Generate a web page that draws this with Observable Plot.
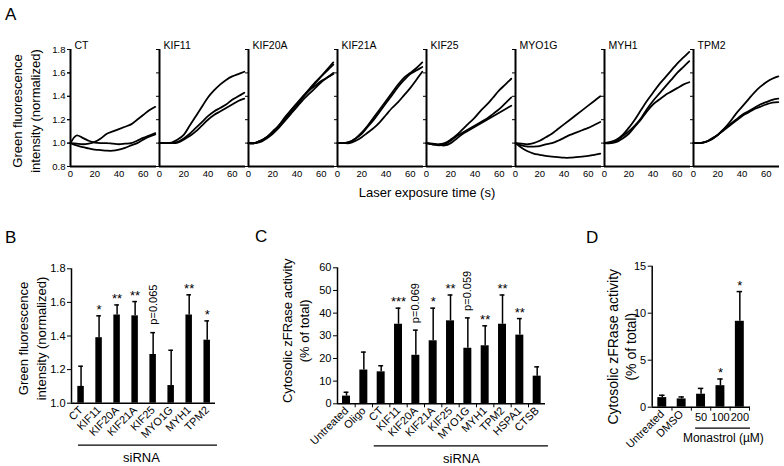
<!DOCTYPE html>
<html><head><meta charset="utf-8">
<script src="https://cdn.jsdelivr.net/npm/d3@7"></script>
<script src="https://cdn.jsdelivr.net/npm/@observablehq/plot@0.6"></script>
<style>
body{margin:0;background:#fff;}
#root{position:relative;width:784px;height:466px;font-family:"Liberation Sans",Arial,Helvetica,sans-serif;color:#000;overflow:hidden;background:#fff}
.lbl{position:absolute;line-height:1;white-space:nowrap;color:#000}
</style></head><body><div id="root"></div>
<script>
// ---------------- Panel A data ----------------
const timesA = [0,5,10,15,20,25,30,35,40,45,50,55,60,65,70];
const genesA = ["CT","KIF11","KIF20A","KIF21A","KIF25","MYO1G","MYH1","TPM2"];
const yTicksA = [0.8,1.0,1.2,1.4,1.6,1.8];
const xTicksA = [0,20,40,60];
const runsCT = [
  [1.0,0.995,0.99,0.995,1.01,1.04,1.08,1.10,1.12,1.14,1.16,1.20,1.24,1.28,1.31],
  [1.0,1.065,1.045,1.02,1.005,1.0,1.0,0.995,0.99,0.995,1.0,1.02,1.045,1.065,1.085],
  [1.0,0.98,0.965,0.955,0.945,0.94,0.935,0.935,0.945,0.96,0.98,1.0,1.03,1.055,1.075]
];
const runsKIF11 = [
  [1.0,1.0,1.005,1.03,1.07,1.15,1.23,1.31,1.39,1.45,1.50,1.54,1.57,1.59,1.61],
  [1.0,1.0,1.0,1.01,1.04,1.08,1.13,1.18,1.23,1.27,1.30,1.33,1.37,1.40,1.43],
  [1.0,1.0,1.0,1.005,1.03,1.06,1.10,1.15,1.20,1.24,1.27,1.30,1.33,1.36,1.38]
];
const runsKIF20A = [
  [1.0,1.0,1.02,1.05,1.09,1.14,1.20,1.26,1.32,1.39,1.45,1.51,1.57,1.63,1.69],
  [1.0,1.0,1.02,1.05,1.10,1.15,1.21,1.28,1.34,1.40,1.46,1.52,1.57,1.62,1.67],
  [1.0,1.0,1.01,1.04,1.08,1.13,1.19,1.25,1.31,1.37,1.42,1.47,1.52,1.56,1.60],
  [1.0,1.0,1.02,1.05,1.09,1.15,1.22,1.28,1.34,1.40,1.45,1.49,1.53,1.56,1.59]
];
const runsKIF21A = [
  [1.0,1.0,1.01,1.04,1.09,1.15,1.22,1.29,1.36,1.43,1.50,1.56,1.60,1.64,1.69],
  [1.0,1.0,1.01,1.04,1.08,1.14,1.20,1.27,1.34,1.41,1.48,1.54,1.59,1.62,1.65],
  [1.0,1.0,1.0,1.02,1.05,1.09,1.13,1.18,1.24,1.30,1.35,1.41,1.47,1.54,1.61]
];
const runsKIF25 = [
  [1.0,0.995,0.99,1.0,1.03,1.07,1.12,1.17,1.22,1.28,1.33,1.39,1.45,1.50,1.55],
  [1.0,0.99,0.98,0.99,1.02,1.06,1.09,1.12,1.15,1.18,1.21,1.25,1.29,1.34,1.39],
  [1.0,0.99,0.985,0.98,1.0,1.04,1.08,1.11,1.14,1.17,1.20,1.23,1.26,1.29,1.32]
];
const runsMYO1G = [
  [1.0,0.995,0.99,1.0,1.02,1.05,1.08,1.12,1.16,1.20,1.24,1.28,1.32,1.36,1.40],
  [1.0,0.98,0.97,0.97,0.975,0.99,1.0,1.02,1.045,1.07,1.09,1.11,1.13,1.155,1.18],
  [1.0,0.96,0.93,0.91,0.90,0.89,0.885,0.88,0.875,0.875,0.88,0.885,0.89,0.90,0.91]
];
const runsMYH1 = [
  [1.0,1.01,1.03,1.07,1.13,1.20,1.28,1.36,1.43,1.50,1.56,1.62,1.68,1.73,1.78],
  [1.0,1.0,1.02,1.06,1.10,1.15,1.21,1.29,1.36,1.42,1.48,1.54,1.60,1.65,1.70],
  [1.0,1.0,1.01,1.04,1.08,1.14,1.20,1.27,1.33,1.37,1.41,1.44,1.47,1.50,1.52]
];
const runsTPM2 = [
  [1.0,1.0,1.01,1.03,1.07,1.12,1.18,1.25,1.31,1.37,1.43,1.48,1.52,1.55,1.57],
  [1.0,1.0,1.01,1.04,1.07,1.12,1.16,1.20,1.24,1.27,1.30,1.33,1.35,1.37,1.38],
  [1.0,1.0,1.01,1.035,1.07,1.11,1.15,1.19,1.23,1.26,1.29,1.31,1.33,1.345,1.35]
];
const runsA = [runsCT,runsKIF11,runsKIF20A,runsKIF21A,runsKIF25,runsMYO1G,runsMYH1,runsTPM2];

// ---------------- Panel B data ----------------
const catsB = ["CT","KIF11","KIF20A","KIF21A","KIF25","MYO1G","MYH1","TPM2"];
const meanB = [1.10,1.39,1.525,1.52,1.29,1.105,1.525,1.375];
const errB  = [1.22,1.52,1.585,1.605,1.42,1.315,1.645,1.49];
const sigB  = ["","*","**","**","","","**","*"];
const pB    = ["","","","","p=0.065","","",""];
const yTicksB = [1.0,1.2,1.4,1.6,1.8];

// ---------------- Panel C data ----------------
const catsC = ["Untreated","Oligo","CT","KIF11","KIF20A","KIF21A","KIF25","MYO1G","MYH1","TPM2","HSPA1","CTSB"];
const meanC = [3.4,14.9,14.1,35.1,21.4,27.8,36.6,24.5,25.6,35.1,30.3,12.2];
const errC  = [5.1,22.8,16.8,42.2,32.5,42.2,48.0,37.9,34.4,48.0,37.6,16.3];
const sigC  = ["","","","***","","*","**","","**","**","**",""];
const pC    = ["","","","","p=0.069","","","p=0.059","","","",""];
const yTicksC = [0,10,20,30,40,50,60];

// ---------------- Panel D data ----------------
const catsD = ["Untreated","DMSO","50","100","200"];
const meanD = [1.02,0.88,1.38,2.29,9.14];
const errD  = [1.27,1.09,2.0,3.0,12.3];
const sigD  = ["","","","*","*"];
const yTicksD = [0,5,10,15];

// ---------------- helpers ----------------
const FONT = '"Liberation Sans", Arial, Helvetica, sans-serif';
const root = document.getElementById("root");
function place(svg, left, top) {
  svg.style.position = "absolute";
  svg.style.left = left + "px";
  svg.style.top = top + "px";
  root.appendChild(svg);
}
function label(txt, left, top, size, extra) {
  const d = document.createElement("div");
  d.className = "lbl";
  d.textContent = txt;
  d.style.left = left + "px";
  d.style.top = top + "px";
  d.style.fontSize = size + "px";
  if (extra) Object.assign(d.style, extra);
  root.appendChild(d);
  return d;
}
const baseStyle = (fs) => ({fontFamily: FONT, fontSize: fs + "px", color: "#000", background: "transparent", overflow: "visible"});
const rowsOf = (cats, mean, err, sig, p) => cats.map((c, i) => ({i, cat: c, mean: mean[i], err: err[i], sig: sig ? sig[i] : "", p: p ? p[i] : ""}));
const yLabel = (txt, dx, dy, fs, extra) => Plot.text([txt], Object.assign({frameAnchor: "left", textAnchor: "middle", lineAnchor: "middle", rotate: -90, dx, dy, fontSize: fs, lineHeight: 1.32}, extra || {}));

// ---------------- Panel A ----------------
const traces = genesA.flatMap((g, gi) => runsA[gi].flatMap((run, ri) => run.map((v, k) => ({gene: g, run: g + "-" + ri, t: timesA[k], v}))));
const xDomA = [0, 71];
const plotA = Plot.plot({
  width: 784, height: 200,
  marginLeft: 67, marginRight: 2, marginTop: 49, marginBottom: 34,
  style: baseStyle(9.5),
  fx: {domain: genesA, paddingInner: 0.03, paddingOuter: 0, axis: null},
  x: {domain: xDomA},
  y: {domain: [0.8, 1.8]},
  marks: [
    Plot.ruleX([0], {y1: 0.8, y2: 1.8, strokeWidth: 2}),
    Plot.ruleY([0.8], {x1: 0, x2: xDomA[1], strokeWidth: 2}),
    Plot.axisY({ticks: yTicksA, tickFormat: d3.format(".1f"), tickSize: 3, tickPadding: 2, label: null}),
    Plot.axisY({ticks: yTicksA, tickSize: 3, fill: "none", label: null, facetAnchor: null}),
    Plot.axisX({ticks: xTicksA, tickSize: 0, tickPadding: 4, label: null}),
    Plot.line(traces, {x: "t", y: "v", z: "run", fx: "gene", stroke: "#000", strokeWidth: 1.8, curve: "catmull-rom"}),
    Plot.text(genesA, {fx: d => d, text: d => d, frameAnchor: "top-left", textAnchor: "start", lineAnchor: "bottom", dx: 4, dy: -1, fontSize: 10.5}),
    yLabel("Green fluorescence\nintensity (normalized)", -45, 3, 13, {facetAnchor: "left"})
  ]
});
place(plotA, 0, 0);
label("A", 5, 6, 17);
label("Laser exposure time (s)", 427, 186, 13, {transform: "translateX(-50%)"});

// ---------------- Panel B ----------------
const rowsB = rowsOf(catsB, meanB, errB, sigB, pB);
const xDomB = [-0.53, 7.46];
const plotB = Plot.plot({
  width: 232, height: 236,
  marginLeft: 71, marginRight: 17, marginTop: 38.3, marginBottom: 63.3,
  style: baseStyle(11),
  x: {domain: xDomB},
  y: {domain: [1.0, 1.8]},
  marks: [
    Plot.ruleX([xDomB[0]], {y1: 1.0, y2: 1.8, strokeWidth: 1.5}),
    Plot.ruleY([1.0], {x1: xDomB[0], x2: xDomB[1], strokeWidth: 1.5}),
    Plot.rectY(rowsB, {x1: d => d.i - 0.18, x2: d => d.i + 0.18, y1: 1.0, y2: "mean", fill: "#000"}),
    Plot.ruleX(rowsB, {x: "i", y1: "mean", y2: "err", strokeWidth: 1.5}),
    Plot.ruleY(rowsB, {y: "err", x1: d => d.i - 0.13, x2: d => d.i + 0.13, strokeWidth: 1.5}),
    Plot.axisY({ticks: yTicksB, tickFormat: d3.format(".1f"), tickSize: 4, tickPadding: 2, label: null}),
    Plot.axisX({ticks: d3.range(catsB.length), tickFormat: i => catsB[i], tickRotate: -45, tickSize: 0, tickPadding: 5, label: null}),
    Plot.text(rowsB.filter(d => d.sig), {x: "i", y: "err", text: "sig", dy: -2, lineAnchor: "bottom", fontSize: 13}),
    Plot.text(rowsB.filter(d => d.p), {x: "i", y: "err", text: "p", rotate: -90, textAnchor: "start", dy: -8, fontSize: 11}),
    Plot.ruleY([1.0], {x1: -0.14, x2: 7.57, dy: 42, strokeWidth: 1.2}),
    Plot.text(["siRNA"], {x: 3.35, y: 1.0, dy: 55, fontSize: 13}),
    yLabel("Green fluorescence\nintensity (normalized)", -40, 2.5, 13)
  ]
});
place(plotB, 0, 230);
label("B", 5, 229, 17);

// ---------------- Panel C ----------------
const rowsC = rowsOf(catsC, meanC, errC, sigC, pC);
const xDomC = [-0.52, 11.48];
const plotC = Plot.plot({
  width: 316, height: 236,
  marginLeft: 97, marginRight: 11, marginTop: 37.3, marginBottom: 62.7,
  style: baseStyle(11),
  x: {domain: xDomC},
  y: {domain: [0, 60]},
  marks: [
    Plot.ruleX([xDomC[0]], {y1: 0, y2: 60, strokeWidth: 1.5}),
    Plot.ruleY([0], {x1: xDomC[0], x2: xDomC[1], strokeWidth: 1.5}),
    Plot.rectY(rowsC, {x1: d => d.i - 0.23, x2: d => d.i + 0.23, y1: 0, y2: "mean", fill: "#000"}),
    Plot.ruleX(rowsC, {x: "i", y1: "mean", y2: "err", strokeWidth: 1.5}),
    Plot.ruleY(rowsC, {y: "err", x1: d => d.i - 0.14, x2: d => d.i + 0.14, strokeWidth: 1.5}),
    Plot.axisY({ticks: yTicksC, tickSize: 4, tickPadding: 2, label: null}),
    Plot.axisX({ticks: d3.range(catsC.length - 1).map(i => i + 0.5), tickSize: 4, fill: "none", label: null}),
    Plot.axisX({ticks: d3.range(catsC.length), tickFormat: i => catsC[i], tickRotate: -45, tickSize: 0, tickPadding: 5, label: null}),
    Plot.text(rowsC.filter(d => d.sig), {x: "i", y: "err", text: "sig", dy: -2, lineAnchor: "bottom", fontSize: 13}),
    Plot.text(rowsC.filter(d => d.p), {x: "i", y: "err", text: "p", rotate: -90, textAnchor: "start", dy: -7, fontSize: 11}),
    Plot.ruleY([0], {x1: 1.6, x2: 11.65, dy: 42, strokeWidth: 1.2}),
    Plot.text(["siRNA"], {x: 6.63, y: 0, dy: 55, fontSize: 13}),
    yLabel("Cytosolic zFRase activity\n(% of total)", -42.5, -5, 13)
  ]
});
place(plotC, 240, 230);
label("C", 255, 228, 17);

// ---------------- Panel D ----------------
const rowsD = rowsOf(catsD, meanD, errD, sigD, null);
const xDomD = [-0.52, 4.55];
const plotD = Plot.plot({
  width: 228, height: 236,
  marginLeft: 95.7, marginRight: 34, marginTop: 35.7, marginBottom: 59.3,
  style: baseStyle(11),
  x: {domain: xDomD},
  y: {domain: [0, 15]},
  marks: [
    Plot.ruleX([xDomD[0]], {y1: 0, y2: 15, strokeWidth: 1.5}),
    Plot.ruleY([0], {x1: xDomD[0], x2: xDomD[1], strokeWidth: 1.5}),
    Plot.rectY(rowsD, {x1: d => d.i - 0.23, x2: d => d.i + 0.23, y1: 0, y2: "mean", fill: "#000"}),
    Plot.ruleX(rowsD, {x: "i", y1: "mean", y2: "err", strokeWidth: 1.5}),
    Plot.ruleY(rowsD, {y: "err", x1: d => d.i - 0.14, x2: d => d.i + 0.14, strokeWidth: 1.5}),
    Plot.axisY({ticks: yTicksD, tickSize: 4, tickPadding: 2, label: null}),
    Plot.axisX({ticks: d3.range(catsD.length).map(i => i + 0.5), tickSize: 4, fill: "none", label: null}),
    Plot.axisX({ticks: [0, 1], tickFormat: i => catsD[i], tickRotate: -45, tickSize: 0, tickPadding: 5, label: null}),
    Plot.axisX({ticks: [2, 3, 4], tickFormat: i => catsD[i], tickSize: 0, tickPadding: 6, label: null, fontSize: 11}),
    Plot.text(rowsD.filter(d => d.sig), {x: "i", y: "err", text: "sig", dy: -2, lineAnchor: "bottom", fontSize: 13}),
    Plot.ruleY([0], {x1: 1.72, x2: 4.55, dy: 21, strokeWidth: 1.2}),
    Plot.text(["Monastrol (µM)"], {x: 3.15, y: 0, dy: 31, fontSize: 12}),
    yLabel("Cytosolic zFRase activity\n(% of total)", -31, 10, 14)
  ]
});
place(plotD, 556, 230);
label("D", 586, 229, 17);
</script></body></html>
